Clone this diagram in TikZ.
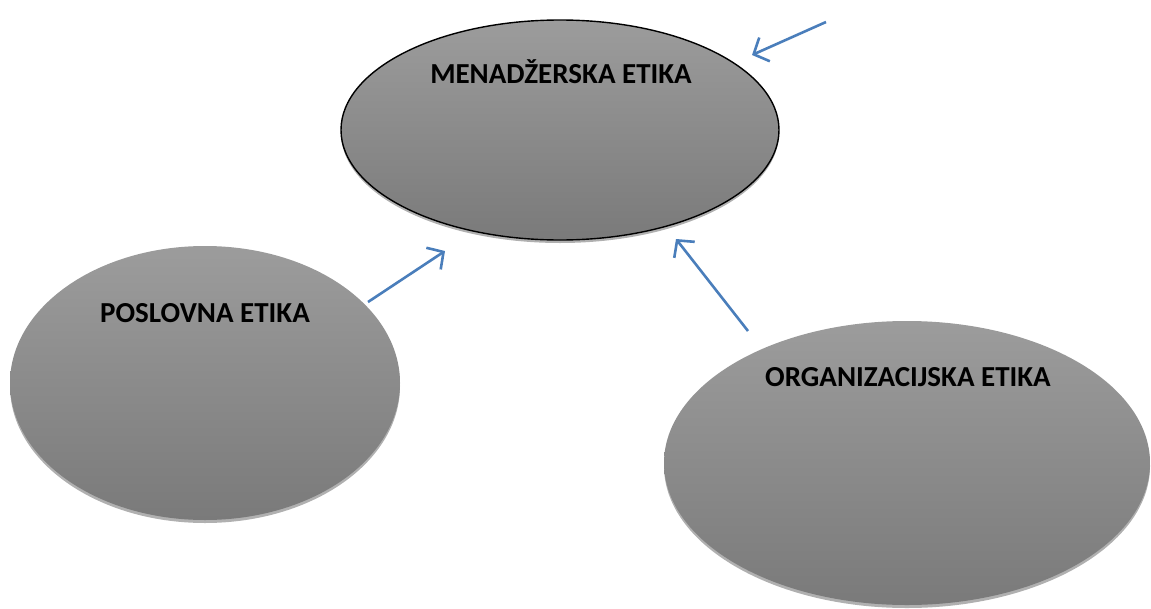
\documentclass[tikz,border=0pt]{standalone}
\usepackage{fontspec}
\setmainfont{Carlito}[BoldFont={Carlito Bold}]
\usetikzlibrary{arrows.meta,shadows,shapes.geometric}
\definecolor{arrowblue}{HTML}{4A7EBB}
\definecolor{topgray}{HTML}{9C9C9C}
\definecolor{botgray}{HTML}{7A7A7A}
\definecolor{shadowgray}{HTML}{B0B0B0}
\tikzset{
  bubble/.style={ellipse, inner sep=0pt, top color=topgray, bottom color=botgray,
    drop shadow={shadow xshift=0pt, shadow yshift=-3pt, fill=shadowgray, opacity=1}},
  bubbletext/.style={font=\bfseries\fontsize{29}{34}\selectfont, text=black},
  link/.style={draw=arrowblue, line width=2.6pt, -{Straight Barb[length=12pt,width=26pt,line width=2.6pt]}}
}
\begin{document}
\begin{tikzpicture}[x=1pt,y=-1pt]
\useasboundingbox (0,0) rectangle (1151,608);
\node[bubble, draw=black, line width=1.4pt, minimum width=438pt, minimum height=220pt] (men) at (560,130) {};
\node[bubble, minimum width=390pt, minimum height=274pt] (pos) at (205,383) {};
\node[bubble, minimum width=486pt, minimum height=284pt] (org) at (907,463) {};
\node[bubbletext] (mentxt) at (561,72) {MENADŽERSKA ETIKA};
\node[bubbletext] (postxt) at (205,313) {POSLOVNA ETIKA};
\node[bubbletext] (orgtxt) at (908,377) {ORGANIZACIJSKA ETIKA};
\coordinate (a1s) at (826,22);
\coordinate (a1e) at (752,55);
\coordinate (a2s) at (368,302);
\coordinate (a2e) at (445,251);
\coordinate (a3s) at (748,331);
\coordinate (a3e) at (676,239);
\draw[link] (a1s) -- (a1e);
\draw[link] (a2s) -- (a2e);
\draw[link] (a3s) -- (a3e);
\end{tikzpicture}
\end{document}
